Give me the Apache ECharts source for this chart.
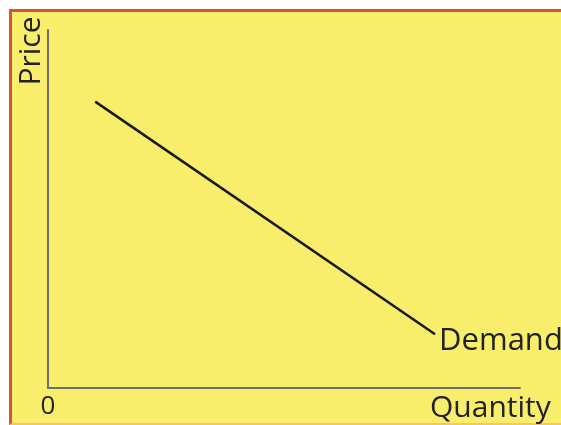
<!DOCTYPE html>
<html>
<head>
<meta charset="utf-8">
<script src="https://cdn.jsdelivr.net/npm/echarts@6/dist/echarts.min.js"></script>
<style>
  html, body { margin: 0; padding: 0; background: #fff; }
  .frame {
    position: absolute;
    left: 9px;
    top: 9px;
    width: 600px;
    height: 411px;
    background: #f8ee6b;
    border-top: 3px solid #d4553b;
    border-left: 3px solid #d4553b;
    border-bottom: 2px solid #f6c46a;
  }
  #chart {
    position: absolute;
    left: 0;
    top: 0;
    width: 561px;
    height: 425px;
  }
</style>
</head>
<body>
<div class="frame"></div>
<div id="chart"></div>
<script>
// demand curve, two end points
const quantity = [1, 8.2]
const price = [8, 1.5]
const curveName = 'Demand'
const xTitle = 'Quantity'
const yTitle = 'Price'

const chart = echarts.init(document.getElementById('chart'))

const option = {
  animation: false,
  backgroundColor: 'transparent',
  grid: { left: 48, right: 41, top: 30, bottom: 37 },
  xAxis: {
    type: 'value',
    min: 0,
    max: 10,
    splitLine: { show: false },
    axisTick: { show: false },
    axisLine: { lineStyle: { color: '#6f6f6f', width: 2 } },
    axisLabel: {
      margin: 6,
      fontFamily: 'Open Sans',
      fontSize: 26,
      color: '#222',
      formatter: v => (v === 0 ? '0' : '')
    }
  },
  yAxis: {
    type: 'value',
    min: 0,
    max: 10,
    splitLine: { show: false },
    axisTick: { show: false },
    axisLabel: { show: false },
    axisLine: { show: true, lineStyle: { color: '#6f6f6f', width: 2 } }
  },
  series: [{
    name: curveName,
    type: 'line',
    data: quantity.map((q, i) => [q, price[i]]),
    symbol: 'none',
    lineStyle: { color: '#1a1a1a', width: 2.5 },
    endLabel: {
      show: true,
      formatter: curveName,
      fontFamily: 'Open Sans',
      fontSize: 31,
      color: '#222',
      distance: 4,
      offset: [0, 7]
    }
  }],
  graphic: [
    {
      type: 'text',
      x: 31,
      y: 51,
      rotation: Math.PI / 2,
      style: {
        text: yTitle,
        font: '30px "Open Sans"',
        fill: '#222',
        align: 'center',
        verticalAlign: 'middle'
      }
    },
    {
      type: 'text',
      x: 430,
      y: 408,
      style: {
        text: xTitle,
        font: '30px "Open Sans"',
        fill: '#222',
        align: 'left',
        verticalAlign: 'middle'
      }
    }
  ]
}

chart.setOption(option)
</script>
</body>
</html>
